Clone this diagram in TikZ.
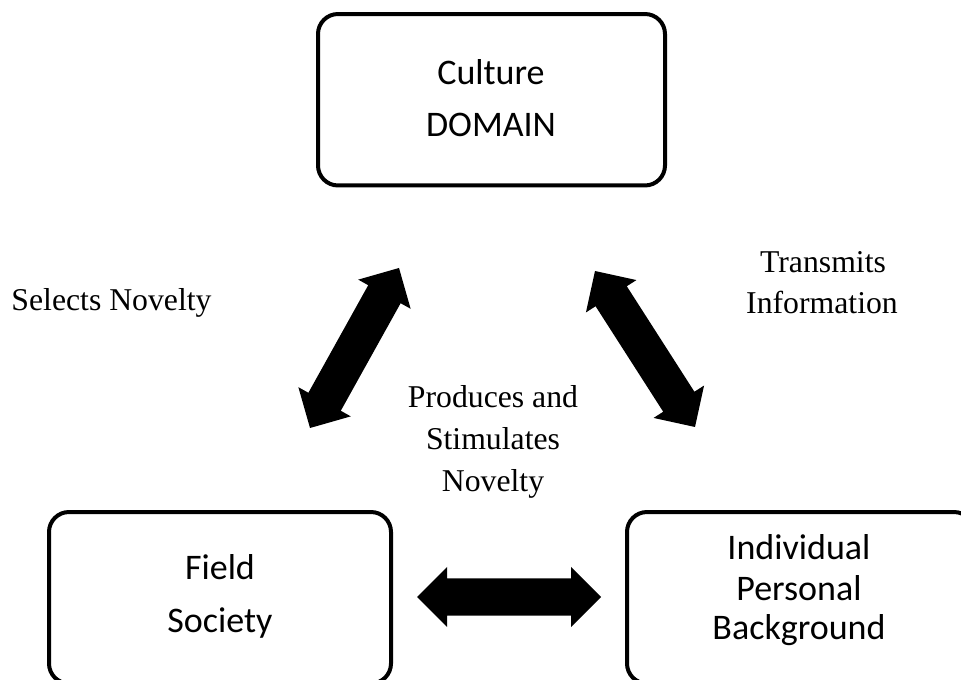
\documentclass[tikz,border=0pt]{standalone}
\usepackage{fontspec}
\setmainfont{Liberation Serif}
\newfontfamily\boxfont{Carlito}
\usetikzlibrary{calc}
\newcommand\hl{22.5pt}
\newcommand\hw{22.5pt}
\newcommand\sw{13.9pt}
\newcommand\dblarrow[2]{%
  \fill[black] ($(#1)!\hl!(#2)!\hw!90:(#2)$) -- (#1) -- ($(#1)!\hl!(#2)!\hw!-90:(#2)$)
   -- ($(#1)!\hl!(#2)!\sw!-90:(#2)$) -- ($(#2)!\hl!(#1)!\sw!90:(#1)$)
   -- ($(#2)!\hl!(#1)!\hw!90:(#1)$) -- (#2) -- ($(#2)!\hl!(#1)!\hw!-90:(#1)$)
   -- ($(#2)!\hl!(#1)!\sw!-90:(#1)$) -- ($(#1)!\hl!(#2)!\sw!90:(#2)$) -- cycle;}
\tikzset{
  box/.style={draw=black, line width=3pt, rounded corners=15pt, minimum width=260.25pt, minimum height=128.6pt, inner sep=0pt, fill=none},
  boxtext/.style={font=\boxfont\fontsize{27pt}{32pt}\selectfont, anchor=base, inner sep=0pt},
  lbl/.style={font=\fontsize{23.8pt}{31pt}\selectfont, anchor=base, inner sep=0pt}
}
\begin{document}
\begin{tikzpicture}[x=0.75pt, y=-0.75pt]
\useasboundingbox (0,0) rectangle (961,680);
\fill[white] (0,0) rectangle (961,680);
% boxes
\node[box] (domain) at (491.5,99.75) {};
\node[box, minimum width=256.5pt] (field) at (220,597.75) {};
\node[box] (indiv) at (800.5,597.75) {};
% box texts
\node[boxtext] (t1) at (491,85) {Culture};
\node[boxtext] (t2) at (491,137) {DOMAIN};
\node[boxtext] (t3) at (220,580) {Field};
\node[boxtext] (t4) at (220,633) {Society};
\node[boxtext] (t5) at (799,560) {Individual};
\node[boxtext] (t6) at (799,601) {Personal};
\node[boxtext] (t7) at (799,640) {Background};
% labels
\node[lbl] (sel) at (111.5,311) {Selects Novelty};
\node[lbl] (tr1) at (823,273) {Transmits};
\node[lbl] (tr2) at (822,314) {Information};
\node[lbl] (pr1) at (493,408) {Produces and};
\node[lbl] (pr2) at (493,450) {Stimulates};
\node[lbl] (pr3) at (493,492) {Novelty};
% arrow end points
\coordinate (la) at (399,268);
\coordinate (lb) at (310,428);
\coordinate (ra) at (595,271);
\coordinate (rb) at (695,427);
\coordinate (ha) at (417,597);
\coordinate (hb) at (601,597);
\dblarrow{la}{lb}
\dblarrow{ra}{rb}
\dblarrow{ha}{hb}
\end{tikzpicture}
\end{document}
